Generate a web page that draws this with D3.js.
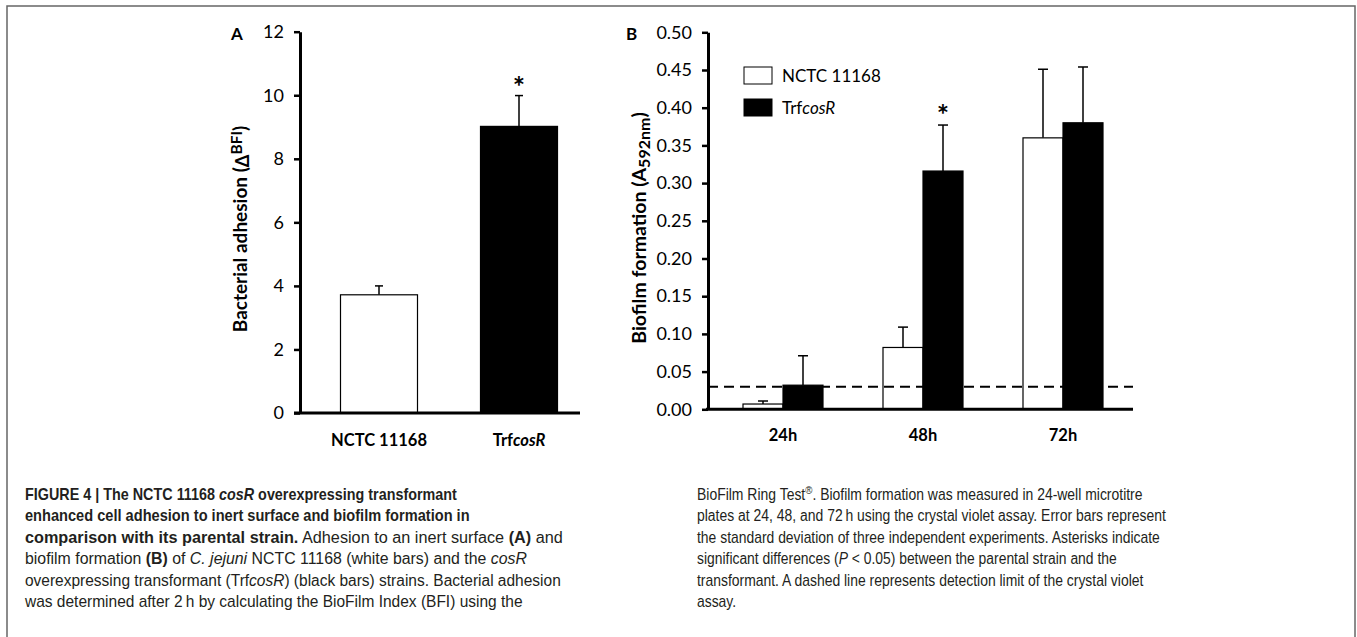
<!DOCTYPE html>
<html>
<head>
<meta charset="utf-8">
<script src="https://cdn.jsdelivr.net/npm/d3@7"></script>
<style>
  html, body { margin: 0; padding: 0; background: #fff; }
  svg { display: block; }
</style>
</head>
<body>
<svg id="chart" width="1357" height="637"></svg>
<script>
// ---------- data ----------
const adhesionCategories = ["NCTC 11168", "TrfcosR"];
const adhesionValues = [3.72, 9.02];
const adhesionErrors = [0.28, 0.97];
const adhesionSignificant = [false, true];
const adhesionTicks = [0, 2, 4, 6, 8, 10, 12];

const timeCategories = ["24h", "48h", "72h"];
const seriesNames = ["NCTC 11168", "TrfcosR"];
const nctcValues = [0.007, 0.082, 0.360];
const nctcErrors = [0.004, 0.027, 0.091];
const trfValues = [0.032, 0.316, 0.380];
const trfErrors = [0.039, 0.061, 0.074];
const trfSignificant = [false, true, false];
const biofilmTicks = [0, 0.05, 0.10, 0.15, 0.20, 0.25, 0.30, 0.35, 0.40, 0.45, 0.50];
const detectionLimit = 0.03;

const captionLeft = [
  [["b", "FIGURE 4 | The NCTC 11168 "], ["bi", "cosR"], ["b", " overexpressing transformant"]],
  [["b", "enhanced cell adhesion to inert surface and biofilm formation in"]],
  [["b", "comparison with its parental strain."], ["n", " Adhesion to an inert surface "], ["b", "(A)"], ["n", " and"]],
  [["n", "biofilm formation "], ["b", "(B)"], ["n", " of "], ["i", "C. jejuni"], ["n", " NCTC 11168 (white bars) and the "], ["i", "cosR"]],
  [["n", "overexpressing transformant (Trf"], ["i", "cosR"], ["n", ") (black bars) strains. Bacterial adhesion"]],
  [["n", "was determined after 2\u2009h by calculating the BioFilm Index (BFI) using the"]]
];
const captionRight = [
  [["n", "BioFilm Ring Test"], ["sup", "\u00AE"], ["n", ". Biofilm formation was measured in 24-well microtitre"]],
  [["n", "plates at 24, 48, and 72\u2009h using the crystal violet assay. Error bars represent"]],
  [["n", "the standard deviation of three independent experiments. Asterisks indicate"]],
  [["n", "significant differences ("], ["i", "P"], ["n", " < 0.05) between the parental strain and the"]],
  [["n", "transformant. A dashed line represents detection limit of the crystal violet"]],
  [["n", "assay."]]
];
// rendered line lengths (px) of the caption, as set in the reference
const captionLeftWidths = [432, 445, 538, 502, 536, 498];
const captionRightWidths = [446, 469, 463, 420, 447, null];

// ---------- setup ----------
const svg = d3.select("#chart");
const chartFont = "Lato, 'Open Sans', sans-serif";
const capFont = "'Liberation Sans', Arial, sans-serif";

svg.append("rect")
  .attr("x", 7).attr("y", 6).attr("width", 1348).attr("height", 700)
  .attr("fill", "none").attr("stroke", "#666").attr("stroke-width", 1.5);

// ---------- Panel A ----------
const yA = d3.scaleLinear().domain([0, 12]).range([413, 31.7]);
const xA = d3.scaleBand().domain(adhesionCategories).range([309, 589])
  .paddingInner(0.45).paddingOuter(0.225);

const gA = svg.append("g");
const axA = gA.append("g").attr("transform", "translate(300,0)")
  .call(d3.axisLeft(yA).tickValues(adhesionTicks).tickSize(6).tickSizeOuter(0).tickPadding(10));
axA.select(".domain").attr("stroke", "#000").attr("stroke-width", 3);
axA.selectAll(".tick line").attr("stroke", "#000").attr("stroke-width", 2.5);
axA.selectAll(".tick text").attr("font-family", chartFont).attr("font-size", 18).attr("fill", "#000");

adhesionCategories.forEach((c, i) => {
  const x = xA(c), w = xA.bandwidth(), cx = x + w / 2;
  const top = yA(adhesionValues[i] + adhesionErrors[i]);
  gA.append("line").attr("x1", cx).attr("x2", cx)
    .attr("y1", yA(adhesionValues[i])).attr("y2", top)
    .attr("stroke", "#000").attr("stroke-width", 1.5);
  gA.append("line").attr("x1", cx - 4).attr("x2", cx + 4)
    .attr("y1", top).attr("y2", top)
    .attr("stroke", "#000").attr("stroke-width", 1.5);
  gA.append("rect").attr("x", x).attr("width", w)
    .attr("y", yA(adhesionValues[i])).attr("height", yA(0) - yA(adhesionValues[i]))
    .attr("fill", i === 0 ? "#fff" : "#000").attr("stroke", "#000").attr("stroke-width", 1.2);
  if (adhesionSignificant[i]) {
    gA.append("text").attr("x", cx).attr("y", top + 1)
      .attr("text-anchor", "middle").attr("font-family", chartFont).attr("font-weight", "bold")
      .attr("font-size", 29).text("*");
  }
  const lbl = gA.append("text").attr("x", cx).attr("y", 446).attr("text-anchor", "middle")
    .attr("font-family", chartFont).attr("font-weight", "bold").attr("font-size", 16.5);
  if (c === "TrfcosR") {
    lbl.append("tspan").text("Trf");
    lbl.append("tspan").attr("font-style", "italic").text("cosR");
  } else lbl.text(c);
});
gA.append("line").attr("x1", 294).attr("x2", 580).attr("y1", yA(0)).attr("y2", yA(0))
  .attr("stroke", "#000").attr("stroke-width", 3);

const ylA = gA.append("text").attr("transform", "translate(247,229) rotate(-90)")
  .attr("text-anchor", "middle").attr("font-family", chartFont).attr("font-weight", "bold")
  .attr("font-size", 19);
ylA.append("tspan").text("Bacterial adhesion (");
ylA.append("tspan").attr("font-size", 18).attr("dy", 2).text("\u0394");
ylA.append("tspan").attr("font-size", 15.5).attr("dy", -7).text("BFI");
ylA.append("tspan").attr("dy", 5).text(")");

gA.append("text").attr("x", 231).attr("y", 40).attr("font-family", chartFont)
  .attr("font-weight", "bold").attr("font-size", 17).text("A");

// ---------- Panel B ----------
const yB = d3.scaleLinear().domain([0, 0.5]).range([409.3, 32.3]);
const x0 = d3.scaleBand().domain(timeCategories).range([713, 1133])
  .paddingInner(60 / 140).paddingOuter(30 / 140);
const x1 = d3.scaleBand().domain(seriesNames).range([0, x0.bandwidth()]);

const gB = svg.append("g");
const axB = gB.append("g").attr("transform", "translate(708,0)")
  .call(d3.axisLeft(yB).tickValues(biofilmTicks).tickFormat(d3.format(".2f"))
    .tickSize(6).tickSizeOuter(0).tickPadding(10));
axB.select(".domain").attr("stroke", "#000").attr("stroke-width", 3);
axB.selectAll(".tick line").attr("stroke", "#000").attr("stroke-width", 2.5);
axB.selectAll(".tick text").attr("font-family", chartFont).attr("font-size", 18).attr("fill", "#000");

const seriesVals = [nctcValues, trfValues];
const seriesErrs = [nctcErrors, trfErrors];
const seriesFill = ["#fff", "#000"];

timeCategories.forEach((t, ti) => {
  seriesNames.forEach((s, si) => {
    const v = seriesVals[si][ti], e = seriesErrs[si][ti];
    const x = x0(t) + x1(s), w = x1.bandwidth(), cx = x + w / 2;
    gB.append("line").attr("x1", cx).attr("x2", cx)
      .attr("y1", yB(v)).attr("y2", yB(v + e)).attr("stroke", "#000").attr("stroke-width", 1.5);
    gB.append("line").attr("x1", cx - 5).attr("x2", cx + 5)
      .attr("y1", yB(v + e)).attr("y2", yB(v + e)).attr("stroke", "#000").attr("stroke-width", 1.5);
    gB.append("rect").attr("x", x).attr("width", w)
      .attr("y", yB(v)).attr("height", yB(0) - yB(v))
      .attr("fill", seriesFill[si]).attr("stroke", "#000").attr("stroke-width", 1.2);
    if (si === 1 && trfSignificant[ti]) {
      gB.append("text").attr("x", cx).attr("y", yB(v + e))
        .attr("text-anchor", "middle").attr("font-family", chartFont).attr("font-weight", "bold")
        .attr("font-size", 29).text("*");
    }
  });
  gB.append("text").attr("x", x0(t) + x0.bandwidth() / 2).attr("y", 441).attr("text-anchor", "middle")
    .attr("font-family", chartFont).attr("font-weight", "bold").attr("font-size", 16.5).text(t);
});

gB.append("line").attr("x1", 708).attr("x2", 1133)
  .attr("y1", yB(detectionLimit)).attr("y2", yB(detectionLimit))
  .attr("stroke", "#000").attr("stroke-width", 2).attr("stroke-dasharray", "10,6");

gB.append("line").attr("x1", 706).attr("x2", 1133).attr("y1", yB(0)).attr("y2", yB(0))
  .attr("stroke", "#000").attr("stroke-width", 3);

seriesNames.forEach((s, si) => {
  const ly = 67 + si * 32;
  gB.append("rect").attr("x", 744).attr("y", ly).attr("width", 28).attr("height", 17)
    .attr("fill", seriesFill[si]).attr("stroke", "#000").attr("stroke-width", 1);
  const t = gB.append("text").attr("x", 782).attr("y", ly + 14.5)
    .attr("font-family", chartFont).attr("font-size", 17);
  if (s === "TrfcosR") {
    t.append("tspan").text("Trf");
    t.append("tspan").attr("font-style", "italic").text("cosR");
  } else t.text(s);
});

const ylB = gB.append("text").attr("transform", "translate(646,228) rotate(-90)")
  .attr("text-anchor", "middle").attr("font-family", chartFont).attr("font-weight", "bold")
  .attr("font-size", 19.5);
ylB.append("tspan").text("Biofilm formation (A");
ylB.append("tspan").attr("font-size", 16).attr("dy", 4).text("592nm");
ylB.append("tspan").attr("dy", -4).text(")");

gB.append("text").attr("x", 626).attr("y", 40).attr("font-family", chartFont)
  .attr("font-weight", "bold").attr("font-size", 17).text("B");

// ---------- caption ----------
function drawCaption(lines, widths, x0c, y0c) {
  lines.forEach((segs, li) => {
    const t = svg.append("text").attr("x", x0c).attr("y", y0c + li * 21.4)
      .attr("font-family", capFont).attr("font-size", 15.8).attr("fill", "#231f20");
    let sup = false;
    segs.forEach(([style, str]) => {
      const sp = t.append("tspan").text(str);
      if (style === "b" || style === "bi") sp.attr("font-weight", "bold");
      if (style === "i" || style === "bi") sp.attr("font-style", "italic");
      if (style === "sup") { sp.attr("font-size", 11).attr("dy", -6); sup = true; }
      else if (sup) { sp.attr("dy", 6); sup = false; }
    });
    const natural = t.node().getComputedTextLength();
    const f = widths[li] ? widths[li] / natural : 0.88;
    t.attr("transform", `translate(${x0c},0) scale(${f},1) translate(${-x0c},0)`);
  });
}
drawCaption(captionLeft, captionLeftWidths, 25, 500);
drawCaption(captionRight, captionRightWidths, 697, 500);
</script>
</body>
</html>
